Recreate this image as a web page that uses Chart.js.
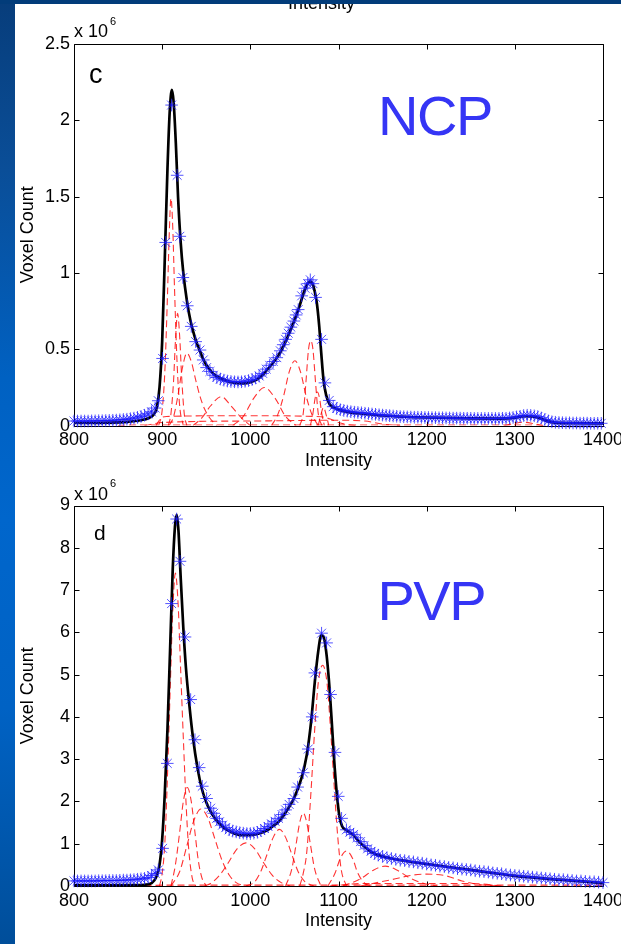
<!DOCTYPE html>
<html>
<head>
<meta charset="utf-8">
<script src="https://cdn.jsdelivr.net/npm/chart.js@4.4.1/dist/chart.umd.min.js"></script>
<style>
  body { margin: 0; background: #fff; overflow: hidden; }
  #page { position: relative; width: 621px; height: 944px; overflow: hidden; background: #fff; }
  canvas { position: absolute; left: 0; top: 0; }
  .txt { position: absolute; line-height: 0; white-space: nowrap; font-family: 'Liberation Sans', Arial, sans-serif; color: #000; }
  .big { color: #3535f5; font-size: 56px; letter-spacing: -1.5px; }
  #leftbar { position: absolute; left: 0; top: 0; width: 15px; height: 944px; z-index: 5;
    background: linear-gradient(to bottom, #073d7b 0%, #0a4e98 18%, #0061c2 40%, #0066cc 55%, #0062c4 75%, #004e9a 100%); }
  #topbar { position: absolute; left: 0; top: 0; width: 621px; height: 4px; z-index: 6; background: #023c7a; }
</style>
</head>
<body>
<div id="page">
  <canvas id="ncpChart" width="621" height="944"></canvas>
  <canvas id="pvpChart" width="621" height="944"></canvas>

  <div class="txt" style="left:288px; top:3.3px; font-size:18px;">Intensity</div>

  <div class="txt" style="left:74px; top:30.8px; font-size:18px;">x 10</div>
  <div class="txt" style="left:110px; top:21.2px; font-size:11px;">6</div>
  <div class="txt" style="left:89px; top:73.6px; font-size:27px;">c</div>
  <div class="txt big" style="left:378px; top:115.6px;">NCP</div>

  <div class="txt" style="left:74px; top:493.8px; font-size:18px;">x 10</div>
  <div class="txt" style="left:110px; top:483.2px; font-size:11px;">6</div>
  <div class="txt" style="left:94px; top:532.7px; font-size:21px;">d</div>
  <div class="txt big" style="left:377.5px; top:600.6px;">PVP</div>

  <div id="leftbar"></div>
  <div id="topbar"></div>
</div>

<script>
// values in units of 10^6 voxels
const xTicks = [800, 900, 1000, 1100, 1200, 1300, 1400];

// NCP (panel c): measured histogram (stars)
const ncpHist = [
  [800,0.030],[804,0.030],[808,0.030],[812,0.030],[816,0.030],[820,0.031],[824,0.031],[828,0.032],
  [832,0.032],[836,0.033],[840,0.034],[844,0.035],[848,0.036],[852,0.038],[856,0.040],[860,0.042],
  [864,0.045],[868,0.049],[872,0.054],[876,0.060],[880,0.068],[884,0.077],[888,0.090],[892,0.115],
  [895.6,0.163],[900.5,0.44],[904,1.20],[910.7,2.10],[917,1.64],[920,1.24],[923.5,0.97],[928.5,0.785],
  [933,0.65],[938,0.55],[942.9,0.495],[946.6,0.43],[950.4,0.38],[954.2,0.355],[958,0.33],[962,0.315],
  [966,0.305],[970,0.298],[974,0.292],[978,0.289],[982,0.287],[986,0.286],[990,0.287],[994,0.290],
  [998,0.295],[1002,0.302],[1006,0.312],[1010,0.325],[1014,0.342],[1018,0.370],[1022,0.395],[1026,0.420],
  [1030,0.445],[1034,0.490],[1037.3,0.530],[1040,0.565],[1043,0.605],[1046,0.645],[1049.4,0.685],[1052,0.725],
  [1054.3,0.760],[1058.2,0.850],[1062,0.900],[1065,0.930],[1068,0.955],[1071,0.930],[1074,0.840],[1080.8,0.565],
  [1084.6,0.280],[1089.5,0.165],[1094,0.124],[1098,0.112],[1102,0.104],[1106,0.099],[1110,0.095],[1114,0.091],
  [1118,0.088],[1122,0.086],[1126,0.084],[1130,0.081],[1134,0.079],[1138,0.076],[1142,0.074],[1146,0.071],
  [1150,0.069],[1154,0.067],[1158,0.065],[1162,0.063],[1166,0.061],[1170,0.059],[1174,0.058],[1178,0.057],
  [1182,0.056],[1186,0.055],[1190,0.055],[1194,0.054],[1198,0.053],[1202,0.053],[1206,0.052],[1210,0.052],
  [1214,0.051],[1218,0.051],[1222,0.050],[1226,0.050],[1230,0.049],[1234,0.049],[1238,0.049],[1242,0.048],
  [1246,0.048],[1250,0.048],[1254,0.047],[1258,0.047],[1262,0.047],[1266,0.047],[1270,0.047],[1274,0.047],
  [1278,0.047],[1282,0.047],[1286,0.048],[1290,0.048],[1294,0.050],[1298,0.053],[1302,0.057],[1306,0.061],
  [1310,0.066],[1314,0.068],[1318,0.067],[1322,0.064],[1326,0.059],[1330,0.050],[1334,0.040],[1338,0.031],
  [1342,0.025],[1346,0.022],[1350,0.020],[1354,0.019],[1358,0.018],[1362,0.018],[1366,0.017],[1370,0.017],
  [1374,0.016],[1378,0.016],[1382,0.016],[1386,0.015],[1390,0.015],[1394,0.015],[1398,0.015]
];

// NCP: total fitted curve (black)
const ncpFit = [
  [800,0.018],[840,0.020],[860,0.025],[875,0.035],[885,0.050],[890,0.070],[894,0.12],[897,0.25],
  [900,0.55],[903,1.10],[906,1.68],[908.5,2.05],[911,2.20],[913,2.12],[915.5,1.85],[918,1.50],
  [921,1.20],[924,1.00],[928,0.82],[932,0.69],[937,0.58],[942,0.50],[947,0.43],[952,0.38],
  [958,0.34],[966,0.31],[975,0.29],[985,0.278],[992,0.277],[1000,0.285],[1008,0.305],[1016,0.345],
  [1024,0.40],[1032,0.46],[1040,0.55],[1048,0.66],[1055,0.77],[1060,0.86],[1064,0.92],[1067.5,0.945],
  [1070.5,0.93],[1073,0.88],[1075.5,0.80],[1078,0.66],[1080.5,0.47],[1083,0.30],[1086,0.20],[1090,0.14],
  [1096,0.115],[1102,0.100],[1115,0.085],[1130,0.077],[1150,0.066],[1175,0.058],[1200,0.053],[1250,0.047],
  [1285,0.046],[1300,0.052],[1312,0.062],[1322,0.058],[1330,0.045],[1338,0.028],[1345,0.020],[1370,0.016],
  [1400,0.014]
];

// NCP: fitted components (red dashed)
const ncpParts = [
  [[896,0],[900,0.1],[903,0.35],[906,0.85],[908,1.25],[910,1.49],[912,1.3],[914,0.9],[917,0.4],[920,0.12],[924,0]],
  [[907,0],[910,0.08],[913,0.3],[915,0.55],[917.5,0.735],[920,0.57],[922,0.33],[925,0.08],[928,0]],
  [[908,0],[913,0.06],[918,0.2],[923,0.38],[928,0.475],[933,0.42],[938,0.3],[943,0.19],[948,0.11],[954,0.05],[962,0]],
  [[935,0],[945,0.05],[955,0.13],[967,0.19],[978,0.13],[990,0.05],[1000,0]],
  [[980,0],[992,0.06],[1004,0.18],[1016,0.25],[1028,0.18],[1040,0.06],[1052,0]],
  [[1024,0],[1031,0.07],[1038,0.2],[1044,0.35],[1050.5,0.425],[1057,0.35],[1063,0.2],[1070,0.07],[1077,0]],
  [[1056,0],[1060,0.08],[1063,0.28],[1066,0.5],[1068.5,0.556],[1071,0.5],[1074,0.28],[1077,0.08],[1081,0]],
  [[1068,0],[1071,0.08],[1073.5,0.18],[1076,0.22],[1078.5,0.18],[1081,0.08],[1084,0]],
  [[1077,0],[1080,0.07],[1083,0.12],[1086,0.07],[1089,0]],
  [[893,0],[898,0.045],[905,0.06],[1000,0.065],[1080,0.058],[1092,0.04],[1100,0.02],[1110,0.006],[1120,0]],
  [[880,0],[900,0.02],[1000,0.03],[1100,0.035],[1130,0.03],[1150,0.01],[1170,0]],
  [[1288,0],[1298,0.012],[1310,0.022],[1322,0.012],[1332,0]],
  [[850,0],[870,0.004],[1320,0.004],[1335,0]]
];

// PVP (panel d): measured histogram (stars)
const pvpHist = [
  [800,0.12],[804,0.12],[808,0.12],[812,0.12],[816,0.12],[820,0.12],[824,0.12],[828,0.125],
  [832,0.125],[836,0.125],[840,0.13],[844,0.13],[848,0.13],[852,0.135],[856,0.14],[860,0.14],
  [864,0.145],[868,0.15],[872,0.16],[876,0.17],[880,0.18],[884,0.20],[888,0.25],[892,0.30],
  [895.6,0.38],[900.5,0.89],[905.8,2.90],[910.7,6.68],[916.4,8.68],[920.2,7.68],[925.9,5.89],[932.3,4.41],
  [937.2,3.46],[942,2.80],[945.5,2.36],[950.4,2.07],[955,1.84],[958.5,1.72],[961.8,1.60],[965,1.52],
  [968.5,1.44],[972,1.38],[976,1.33],[980,1.30],[984,1.28],[988,1.26],[992,1.25],[996,1.24],
  [1000,1.24],[1004,1.25],[1008,1.27],[1012,1.31],[1016,1.36],[1020,1.41],[1024,1.47],[1028,1.53],
  [1032,1.60],[1036,1.69],[1040,1.80],[1044,1.93],[1049.4,2.07],[1053.6,2.34],[1060,2.68],[1065.7,3.24],
  [1070.2,4.00],[1073.2,5.04],[1080.8,5.98],[1086.5,5.75],[1091,4.53],[1096,3.16],[1099.7,2.12],[1103.5,1.60],
  [1109,1.33],[1113,1.27],[1117,1.22],[1121,1.14],[1125,1.05],[1129,0.96],[1133,0.88],[1137,0.82],
  [1141,0.77],[1145,0.73],[1150,0.70],[1155,0.67],[1160,0.65],[1165,0.63],[1170,0.61],[1175,0.60],
  [1180,0.58],[1185,0.57],[1190,0.55],[1195,0.54],[1200,0.52],[1205,0.50],[1210,0.49],[1215,0.47],
  [1220,0.46],[1225,0.44],[1230,0.43],[1235,0.41],[1240,0.40],[1245,0.39],[1250,0.38],[1255,0.36],
  [1260,0.35],[1265,0.34],[1270,0.33],[1275,0.31],[1280,0.30],[1285,0.29],[1290,0.27],[1295,0.26],
  [1300,0.25],[1305,0.24],[1310,0.23],[1315,0.22],[1320,0.21],[1325,0.20],[1330,0.19],[1335,0.18],
  [1340,0.17],[1345,0.16],[1350,0.15],[1355,0.15],[1360,0.14],[1365,0.13],[1370,0.12],[1375,0.12],
  [1380,0.11],[1385,0.10],[1390,0.10],[1395,0.09],[1400,0.08]
];

// PVP: total fitted curve (black)
const pvpFit = [
  [800,0.015],[860,0.02],[880,0.03],[888,0.07],[893,0.2],[897,0.5],[900,1.1],[903,2.2],
  [906,3.7],[909,5.6],[912,7.5],[914.5,8.5],[916.5,8.78],[918.5,8.4],[921,7.3],[924,6.1],
  [927,5.15],[931,4.25],[935,3.5],[940,2.8],[945,2.3],[950,1.98],[955,1.76],[960,1.6],
  [970,1.38],[980,1.26],[990,1.2],[1000,1.2],[1010,1.24],[1020,1.33],[1026,1.42],[1032,1.52],
  [1040,1.74],[1050,2.1],[1058,2.55],[1064,3.1],[1069,3.9],[1073,4.8],[1077,5.55],[1080.5,5.93],
  [1083,5.9],[1086,5.55],[1089,4.9],[1092,4.0],[1095,3.0],[1098,2.2],[1101,1.65],[1104,1.42],
  [1108,1.33],[1113,1.27],[1118,1.18],[1124,1.04],[1130,0.92],[1136,0.82],[1145,0.73],[1160,0.65],
  [1180,0.58],[1200,0.52],[1250,0.38],[1300,0.24],[1350,0.15],[1400,0.07]
];

// PVP: fitted components (red dashed)
const pvpParts = [
  [[897,0],[900,0.3],[903,1.0],[906,2.6],[909,4.6],[912,6.5],[915,7.4],[918,6.7],[921,5.1],[924,3.5],[927,2.0],[930,0.9],[934,0.2],[938,0]],
  [[910,0],[915,0.5],[920,1.3],[924,2.0],[928.5,2.33],[933,2.0],[937,1.3],[941,0.6],[945,0.2],[950,0]],
  [[910,0],[920,0.35],[928,0.95],[936,1.55],[944,1.82],[952,1.6],[960,1.1],[968,0.6],[976,0.26],[984,0.08],[994,0]],
  [[948,0],[955,0.06],[965,0.25],[975,0.55],[985,0.88],[995,1.02],[1005,0.88],[1015,0.55],[1025,0.25],[1035,0.08],[1045,0]],
  [[995,0],[1005,0.1],[1012,0.35],[1019,0.75],[1026,1.15],[1033,1.34],[1040,1.15],[1047,0.75],[1054,0.35],[1062,0.1],[1072,0]],
  [[1040,0],[1047,0.4],[1052,1.0],[1056,1.5],[1060,1.73],[1064,1.5],[1068,1.0],[1073,0.4],[1080,0]],
  [[1056,0],[1060,0.3],[1064,0.8],[1069,2.3],[1073,3.7],[1077,4.8],[1082,5.22],[1087,4.8],[1091,3.7],[1095,2.4],[1099,1.2],[1103,0.4],[1109,0]],
  [[1088,0],[1096,0.3],[1102,0.65],[1109,0.83],[1116,0.65],[1122,0.3],[1130,0.06],[1140,0]],
  [[1105,0],[1125,0.17],[1140,0.38],[1153,0.47],[1166,0.38],[1180,0.2],[1195,0.07],[1212,0]],
  [[1125,0],[1160,0.15],[1185,0.26],[1200,0.28],[1220,0.25],[1240,0.12],[1260,0.03],[1280,0]],
  [[1090,0],[1130,0.06],[1250,0.06],[1285,0]],
  [[880,0],[900,0.02],[1400,0.02]]
];

Chart.defaults.font.family = "'Liberation Sans', Arial, sans-serif";
Chart.defaults.font.size = 18;
Chart.defaults.color = '#000';

const toXY = pts => pts.map(p => ({ x: p[0], y: p[1] }));

// MATLAB style box with inward ticks, drawn under the data
const boxTicks = {
  id: 'boxTicks',
  beforeDatasetsDraw(chart) {
    const { ctx, chartArea: a, scales } = chart;
    const L = Math.round(a.left) + 0.5, R = Math.round(a.right) + 0.5;
    const T = Math.round(a.top) + 0.5, B = Math.round(a.bottom) + 0.5;
    ctx.save();
    ctx.strokeStyle = '#000';
    ctx.lineWidth = 1;
    ctx.beginPath();
    ctx.rect(L, T, R - L, B - T);
    scales.x.ticks.forEach(t => {
      const px = Math.round(scales.x.getPixelForValue(t.value)) + 0.5;
      ctx.moveTo(px, B); ctx.lineTo(px, B - 5);
      ctx.moveTo(px, T); ctx.lineTo(px, T + 5);
    });
    scales.y.ticks.forEach(t => {
      const py = Math.round(scales.y.getPixelForValue(t.value)) + 0.5;
      ctx.moveTo(L, py); ctx.lineTo(L + 5, py);
      ctx.moveTo(R, py); ctx.lineTo(R - 5, py);
    });
    ctx.stroke();
    ctx.restore();
  }
};

function makeChart(id, hist, fit, parts, yMax, yStep, pad) {
  const datasets = [
    {
      data: toXY(hist), showLine: false, pointStyle: 'star', pointRadius: 6.3,
      pointBorderWidth: 1, pointBorderColor: 'rgba(25,25,255,0.75)', clip: false
    },
    {
      data: toXY(fit), borderColor: '#000', borderWidth: 2.7, pointRadius: 0,
      cubicInterpolationMode: 'monotone'
    }
  ];
  parts.forEach(p => datasets.push({
    data: toXY(p), borderColor: 'rgba(255,0,0,0.8)', borderWidth: 1.1, borderDash: [7, 4],
    pointRadius: 0, cubicInterpolationMode: 'monotone'
  }));

  return new Chart(document.getElementById(id), {
    type: 'line',
    data: { datasets },
    options: {
      responsive: false,
      animation: false,
      devicePixelRatio: 1,
      layout: { padding: pad },
      plugins: { legend: { display: false }, tooltip: { enabled: false } },
      scales: {
        x: {
          type: 'linear', min: 800, max: 1400,
          afterBuildTicks: s => { s.ticks = xTicks.map(v => ({ value: v })); },
          afterFit: s => { s.height = 46; s.paddingLeft = 0; s.paddingRight = 0; },
          grid: { display: false, drawTicks: false },
          border: { display: false },
          ticks: { padding: 4, maxRotation: 0, autoSkip: false, callback: v => String(v) },
          title: { display: true, text: 'Intensity', padding: { top: 0, bottom: 0 } }
        },
        y: {
          min: 0, max: yMax,
          afterFit: s => { s.width = 60; s.paddingTop = 0; s.paddingBottom = 0; },
          grid: { display: false, drawTicks: false },
          border: { display: false },
          ticks: { stepSize: yStep, padding: 4, callback: v => String(+v.toFixed(2)) },
          title: { display: true, text: 'Voxel Count', padding: { top: 3, bottom: 0 } }
        }
      }
    },
    plugins: [boxTicks]
  });
}

makeChart('ncpChart', ncpHist, ncpFit, ncpParts, 2.5, 0.5,
  { left: 14, right: 18, top: 44, bottom: 472.4 });
makeChart('pvpChart', pvpHist, pvpFit, pvpParts, 9, 1,
  { left: 14, right: 18, top: 505.5, bottom: 12 });
</script>
</body>
</html>
